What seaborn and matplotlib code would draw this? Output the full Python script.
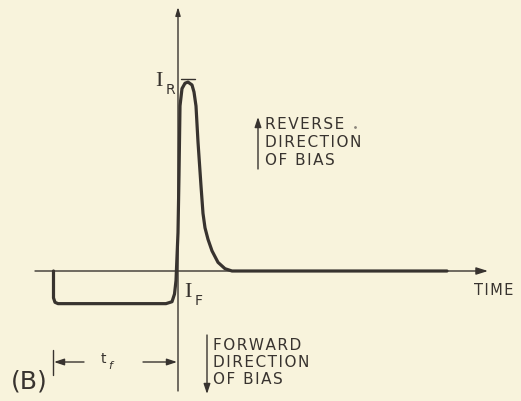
import matplotlib
matplotlib.use("Agg")
import matplotlib.pyplot as plt
import seaborn as sns

# --- waveform: time (arbitrary units, 0 = switching instant),
# current normalised so that the reverse peak I_R = 1
time = [-12.45, -12.45, -12.3, -12.0, -1.2, -0.6, -0.35, -0.2, 0.0, 0.1,
        0.2, 0.4, 0.7, 1.0, 1.4, 1.6, 1.8, 2.0, 2.3, 2.5, 2.7, 3.0, 3.4,
        4.0, 4.7, 5.4, 26.9]
current = [0.0, -0.14, -0.163, -0.17, -0.17, -0.16, -0.12, -0.05, 0.2, 0.5,
           0.86, 0.95, 0.978, 0.984, 0.969, 0.932, 0.859, 0.672, 0.443, 0.3,
           0.225, 0.165, 0.105, 0.045, 0.012, 0.0, 0.0]

i_r_level = 1.0
reverse_lines = ["REVERSE", "DIRECTION", "OF BIAS"]
forward_lines = ["FORWARD", "DIRECTION", "OF BIAS"]
x_label = "TIME"
panel_label = "(B)"

bg = "#f8f3dc"
ink = "#38332f"

sns.set_style("white")
plt.rcParams["font.family"] = ["DejaVu Sans"]

W, H = 521, 402
X0, Y0, SX, SY = 178, 272, 10.0, 192.0   # pixel origin and scale of the drawing


def P(xp, yp):
    """pixel position in the reference -> data coordinates (for annotations)"""
    return (xp - X0) / SX, (Y0 - yp) / SY


def spaced(s):
    # drafting lettering is set a little wide
    return "\u200a".join(s)


fig = plt.figure(figsize=(W / 100, H / 100), dpi=100)
fig.patch.set_facecolor(bg)
ax = fig.add_axes([0, 0, 1, 1])
ax.set_facecolor(bg)
ax.set_xlim(P(0, 0)[0], P(W, 0)[0])
ax.set_ylim(P(0, H)[1], P(0, 0)[1])
ax.axis("off")

# axes of the sketch
axis_kw = dict(arrowstyle="-|>,head_length=0.7,head_width=0.22", color=ink, lw=1.0,
               shrinkA=0, shrinkB=0)
ax.annotate("", xy=P(488, Y0), xytext=P(35, Y0), arrowprops=axis_kw)
ax.annotate("", xy=P(X0, 8), xytext=P(X0, 392),
            arrowprops=dict(axis_kw, arrowstyle="-|>,head_length=0.5,head_width=0.15"))

# the recovery waveform
sns.lineplot(x=time, y=current, ax=ax, color=ink, lw=2.3, sort=False,
             estimator=None, solid_joinstyle="round", solid_capstyle="round")

# I_R / I_F labels
ax.plot([P(181, 0)[0], P(195, 0)[0]], [i_r_level, i_r_level], color=ink, lw=1.0)
serif = ["Liberation Serif", "DejaVu Serif"]
ax.text(*P(159, 82), "I", family=serif, fontsize=16, color=ink, ha="center", va="center")
ax.text(*P(170, 90), "R", fontsize=10, color=ink, ha="center", va="center")
ax.text(*P(188, 293), "I", family=serif, fontsize=16, color=ink, ha="center", va="center")
ax.text(*P(199, 301), "F", fontsize=10, color=ink, ha="center", va="center")

# direction labels
arr_kw = dict(arrowstyle="-|>,head_length=0.6,head_width=0.2", color=ink, lw=1.0,
              shrinkA=0, shrinkB=0)
ax.annotate("", xy=P(258, 118), xytext=P(258, 170), arrowprops=arr_kw)
for k, s in enumerate(reverse_lines):
    ax.text(*P(265, 125 + 18 * k), spaced(s), fontsize=11, color=ink,
            ha="left", va="center")
ax.plot(*P(355, 128), "o", ms=1.0, color="#8a847a")

ax.annotate("", xy=P(207, 395), xytext=P(207, 336), arrowprops=arr_kw)
for k, s in enumerate(forward_lines):
    ax.text(*P(213, 346 + 17 * k), spaced(s), fontsize=11, color=ink,
            ha="left", va="center")

ax.text(*P(474, 291), spaced(x_label), fontsize=10.5, color=ink, ha="left", va="center")

# t_f dimension
ax.plot([P(53, 0)[0]] * 2, [P(0, 351)[1], P(0, 376)[1]], color=ink, lw=1.0)
ax.annotate("", xy=P(54, 363), xytext=P(84, 363), arrowprops=arr_kw)
ax.annotate("", xy=P(177, 363), xytext=P(143, 363), arrowprops=arr_kw)
ax.text(*P(103, 359), "t", fontsize=10, color=ink, ha="center", va="center")
ax.text(*P(110, 366), "f", fontsize=8, color=ink, ha="center", va="center",
        style="italic")

ax.text(*P(11, 382), panel_label, fontsize=18, color=ink, ha="left", va="center")

fig.savefig("out.png", dpi=100, facecolor=bg)
